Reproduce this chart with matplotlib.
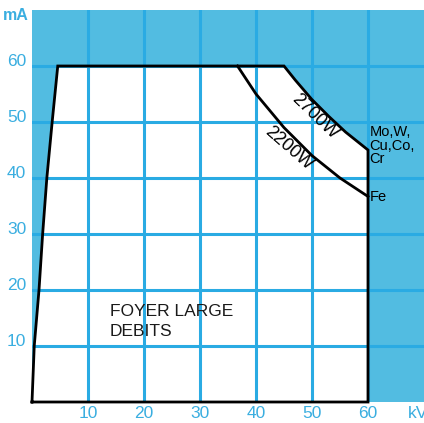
import matplotlib.pyplot as plt

plt.rcParams['font.family'] = ['Liberation Sans', 'DejaVu Sans']

# Load curve of the tube: mA against kV
edge_kv = [0, 0.4, 1.25, 1.9, 2.65, 3.6, 4.6]
edge_ma = [0, 10, 20, 30, 40, 50, 60]
p2700_kv = [45, 47, 50, 53, 56, 60]
p2700_ma = [60, 57.5, 54, 51, 48.2, 45]
p2200_kv = [36.7, 40, 45, 50, 55, 60]
p2200_ma = [60, 55, 49, 44, 40, 36.7]
ticks = [10, 20, 30, 40, 50, 60]

BLUE_BG = '#52bce1'
BLUE_GRID = '#2aabe3'
BLUE_TXT = '#3aaee0'

fig = plt.figure(figsize=(4.24, 4.23), dpi=100)
ax = fig.add_axes([32 / 424, 21 / 423, 392 / 424, 392 / 423])
ax.set_xlim(0, 70)
ax.set_ylim(0, 70)
ax.set_facecolor(BLUE_BG)
for s in ax.spines.values():
    s.set_visible(False)

# outline of the usable area
xs = edge_kv + p2700_kv + [60, 0]
ys = edge_ma + p2700_ma + [0, 0]
ax.fill(xs, ys, color='white', zorder=1, lw=0)

for t in ticks:
    ax.axvline(t, color=BLUE_GRID, lw=2.2, zorder=2)
    ax.axhline(t, color=BLUE_GRID, lw=2.2, zorder=2)

ax.plot(xs, ys, color='black', lw=2.0, zorder=3, solid_joinstyle='miter', clip_on=False)
ax.plot(p2200_kv, p2200_ma, color='black', lw=2.0, zorder=3)

ax.set_xticks(ticks)
ax.set_yticks(ticks)
ax.set_xticklabels([str(t) for t in ticks], color=BLUE_TXT, fontsize=12.5)
ax.set_yticklabels([str(t) for t in ticks], color=BLUE_TXT, fontsize=12.5, ha='left')
ax.tick_params(axis='both', length=0)
ax.tick_params(axis='x', pad=3)
ax.tick_params(axis='y', pad=18)
for lbl in ax.get_yticklabels():
    lbl.set_verticalalignment('baseline')

fig.text(3 / 424, 1 - 16 / 423, 'mA', color=BLUE_TXT, fontsize=11.5, fontweight='bold',
         va='center', ha='left')
ax.text(67.1, -2.0, 'kV', color=BLUE_TXT, fontsize=12.5, va='center', ha='left', clip_on=False)

ax.text(50.5, 50.9, '2700W', rotation=-44, fontsize=13, ha='center', va='center',
        rotation_mode='anchor', zorder=4)
ax.text(45.8, 45.3, '2200W', rotation=-41, fontsize=13, ha='center', va='center',
        rotation_mode='anchor', zorder=4)
ax.text(60.3, 49.4, 'Mo,W,\nCu,Co,\nCr', fontsize=10.5, ha='left', va='top',
        linespacing=0.95, zorder=4)
ax.text(60.3, 36.6, 'Fe', fontsize=10.5, ha='left', va='center', zorder=4)
ax.text(13.9, 14.4, 'FOYER LARGE\nDEBITS', fontsize=12.5, ha='left', va='center',
        linespacing=1.45, color='#1a1a1a', zorder=4)

fig.savefig('out.png', dpi=100)
